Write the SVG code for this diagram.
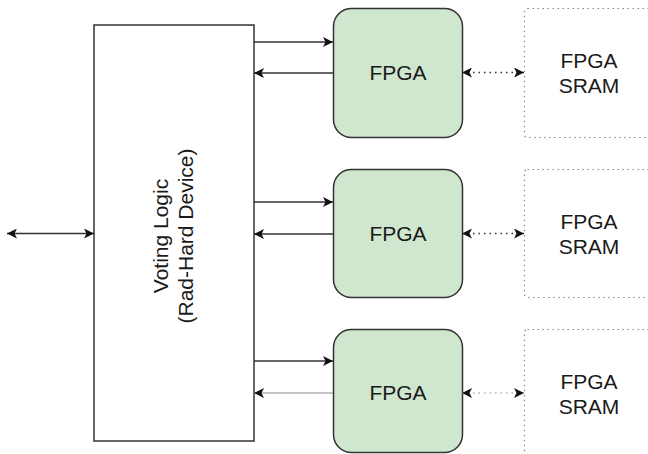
<svg xmlns="http://www.w3.org/2000/svg" width="648" height="454" viewBox="0 0 648 454">
<style>
.box{fill:#ffffff;stroke:#333333;stroke-width:1.5}
.fpga{fill:#cfe6cf;stroke:#333333;stroke-width:1.5}
.sram{fill:#ffffff;stroke:#888888;stroke-width:1.2;stroke-dasharray:1.5 3.5}
.t{font-family:"Liberation Sans",Arial,sans-serif;font-size:21px;fill:#1a1a1a;text-anchor:middle}
.ln{fill:none;stroke:#333333;stroke-width:1.5}
.lt{fill:none;stroke:#888888;stroke-width:1}
.dt{fill:none;stroke:#333333;stroke-width:1.5;stroke-dasharray:1.5 4}
.dtl{fill:none;stroke:#888888;stroke-width:1.2;stroke-dasharray:1.5 4}
</style>
<defs>
<marker id="ah" viewBox="0 0 10 10" refX="10" refY="5" markerWidth="11" markerHeight="10" markerUnits="userSpaceOnUse" orient="auto-start-reverse">
<path d="M0,0 L10,5 L0,10 L2.5,5 z" fill="#111111"/>
</marker>
</defs>
<g id="voting">
<rect class="box" x="94" y="25" width="160" height="416"/>
<g transform="translate(174,233) rotate(-90)">
<text class="t" x="-3" y="-6">Voting Logic</text>
<text class="t" x="-3" y="19">(Rad-Hard Device)</text>
</g>
</g>
<g id="fpga1">
<rect class="fpga" x="333.5" y="8.5" width="129" height="129" rx="18"/>
<text class="t" x="398" y="80">FPGA</text>
</g>
<g id="fpga2">
<rect class="fpga" x="333.5" y="169.5" width="129" height="128" rx="18"/>
<text class="t" x="398" y="241">FPGA</text>
</g>
<g id="fpga3">
<rect class="fpga" x="333.5" y="329.5" width="129" height="123" rx="18"/>
<text class="t" x="398" y="400">FPGA</text>
</g>
<g id="sram1">
<rect class="sram" x="524.5" y="8.5" width="129" height="129" rx="3"/>
<text class="t" x="589" y="68">FPGA</text>
<text class="t" x="589" y="93">SRAM</text>
</g>
<g id="sram2">
<rect class="sram" x="524.5" y="169.5" width="129" height="128" rx="3"/>
<text class="t" x="589" y="229">FPGA</text>
<text class="t" x="589" y="254">SRAM</text>
</g>
<g id="sram3">
<rect class="sram" x="524.5" y="329.5" width="129" height="128" rx="3"/>
<text class="t" x="589" y="389">FPGA</text>
<text class="t" x="589" y="414">SRAM</text>
</g>
<g id="connectors">
<line class="ln" x1="7" y1="233.5" x2="94" y2="233.5" marker-start="url(#ah)" marker-end="url(#ah)"/>
<line class="ln" x1="254" y1="42" x2="333" y2="42" marker-end="url(#ah)"/>
<line class="ln" x1="333" y1="73" x2="254" y2="73" marker-end="url(#ah)"/>
<line class="ln" x1="254" y1="202" x2="333" y2="202" marker-end="url(#ah)"/>
<line class="ln" x1="333" y1="234" x2="254" y2="234" marker-end="url(#ah)"/>
<line class="ln" x1="254" y1="361" x2="333" y2="361" marker-end="url(#ah)"/>
<line class="lt" x1="333" y1="393" x2="254" y2="393" marker-end="url(#ah)"/>
<line class="dt" x1="462" y1="72.5" x2="524" y2="72.5" marker-start="url(#ah)" marker-end="url(#ah)"/>
<line class="dt" x1="462" y1="233.5" x2="524" y2="233.5" marker-start="url(#ah)" marker-end="url(#ah)"/>
<line class="dtl" x1="462" y1="393" x2="524" y2="393" marker-start="url(#ah)" marker-end="url(#ah)"/>
</g>
</svg>
